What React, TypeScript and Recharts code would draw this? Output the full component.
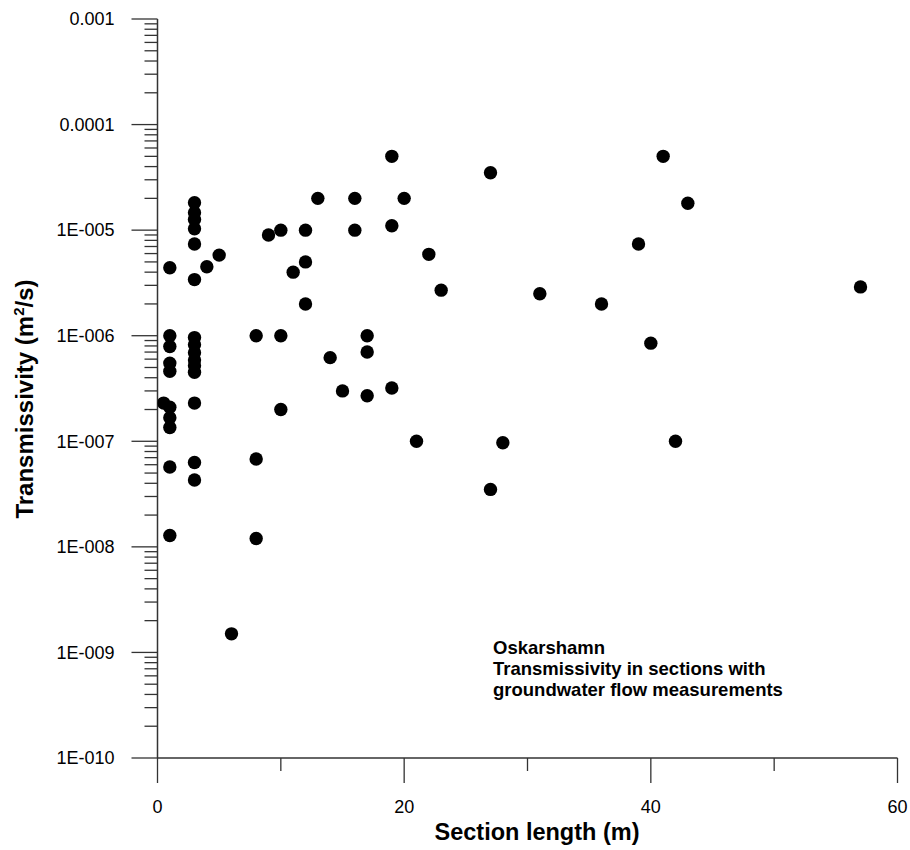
import { ScatterChart, Scatter, XAxis, YAxis, Label } from "recharts";

// section length (m) and measured transmissivity (m2/s), one entry per section
const SECTION_LENGTH = [
  1, 1, 1, 1, 1, 0.5, 1, 1, 1, 1, 1,
  3, 3, 3, 3, 3, 3, 3, 3, 3, 3, 3, 3, 3, 3, 3,
  4, 5, 6, 8, 8, 8, 9, 10, 10, 10, 11, 12, 12, 12, 13, 14, 15,
  16, 16, 17, 17, 17, 19, 19, 19, 20, 21, 22, 23, 27, 27, 28,
  31, 36, 39, 40, 41, 42, 43, 57,
];
const TRANSMISSIVITY = [
  4.4e-6, 1e-6, 7.9e-7, 5.5e-7, 4.6e-7, 2.3e-7, 2.1e-7, 1.67e-7, 1.35e-7, 5.7e-8, 1.28e-8,
  1.82e-5, 1.46e-5, 1.26e-5, 1.03e-5, 7.4e-6, 3.4e-6, 9.6e-7, 8.2e-7, 6.9e-7, 5.9e-7, 5.2e-7, 4.5e-7, 2.3e-7, 6.3e-8, 4.3e-8,
  4.5e-6, 5.8e-6, 1.5e-9, 1e-6, 6.8e-8, 1.2e-8, 9e-6, 1e-5, 1e-6, 2e-7, 4e-6, 1e-5, 5e-6, 2e-6, 2e-5, 6.2e-7, 3e-7,
  2e-5, 1e-5, 1e-6, 7e-7, 2.7e-7, 5e-5, 1.1e-5, 3.2e-7, 2e-5, 1e-7, 5.9e-6, 2.7e-6, 3.5e-5, 3.5e-8, 9.7e-8,
  2.5e-6, 2e-6, 7.4e-6, 8.5e-7, 5e-5, 1e-7, 1.8e-5, 2.9e-6,
];

const X_TICKS = [0, 10, 20, 30, 40, 50, 60];
const X_LABELED = [0, 20, 40, 60];
const Y_DECADES = [1e-10, 1e-9, 1e-8, 1e-7, 1e-6, 1e-5, 1e-4, 1e-3];
const Y_LABELS = ["1E-010", "1E-009", "1E-008", "1E-007", "1E-006", "1E-005", "0.0001", "0.001"];
const Y_MINOR = [2, 3, 4, 5, 6, 7, 8, 9];

const NOTE_LINES = [
  "Oskarshamn",
  "Transmissivity in sections with",
  "groundwater flow measurements",
];

const FONT = "'Liberation Sans', Arial, sans-serif";
const AXIS = "#333";

const points = SECTION_LENGTH.map((x, i) => ({ x, t: TRANSMISSIVITY[i] }));

const yTicks = Y_DECADES.flatMap((d, i) =>
  i === Y_DECADES.length - 1 ? [d] : [d, ...Y_MINOR.map((m) => m * d)]
);

function decadeIndex(v: number) {
  return Y_DECADES.findIndex((d) => Math.abs(Math.log10(v) - Math.log10(d)) < 1e-6);
}

function YTick(props: any) {
  const { x, y, payload } = props;
  const idx = decadeIndex(payload.value);
  const major = idx >= 0;
  return (
    <g>
      <line x1={x - (major ? 26 : 13)} x2={x} y1={y} y2={y} stroke={AXIS} strokeWidth={1.3} />
      {major && (
        <text x={x - 43} y={y} dy="0.35em" textAnchor="end" fontSize={18} fontFamily={FONT} fill="#000">
          {Y_LABELS[idx]}
        </text>
      )}
    </g>
  );
}

function XTick(props: any) {
  const { x, y, payload } = props;
  const major = X_LABELED.includes(payload.value);
  return (
    <g>
      <line x1={x} x2={x} y1={y} y2={y + (major ? 25 : 13)} stroke={AXIS} strokeWidth={1.3} />
      {major && (
        <text x={x} y={y + 55} textAnchor="middle" fontSize={18} fontFamily={FONT} fill="#000">
          {payload.value}
        </text>
      )}
    </g>
  );
}

const Dot = (props: any) => <circle cx={props.cx} cy={props.cy} r={6.7} fill="#000" />;

export default function App() {
  return (
    <div style={{ position: "absolute", left: 0, top: 0, width: 910, height: 850, background: "#fff" }}>
      <ScatterChart width={910} height={850} margin={{ top: 19, right: 12.5, bottom: 0, left: 0 }}>
        <XAxis
          type="number"
          dataKey="x"
          domain={[0, 60]}
          ticks={X_TICKS}
          interval={0}
          tickSize={0}
          tickMargin={0}
          tickLine={false}
          tick={<XTick />}
          axisLine={{ stroke: AXIS, strokeWidth: 1.5 }}
          height={92}
          allowDataOverflow
        >
          <Label
            content={() => (
              <text x={537} y={840} textAnchor="middle" fontSize={23.5} fontWeight="bold" fontFamily={FONT} fill="#000">
                Section length (m)
              </text>
            )}
          />
          <Label
            content={() => (
              <text x={493} fontSize={18.5} fontWeight="bold" fontFamily={FONT} fill="#000">
                {NOTE_LINES.map((line, i) => (
                  <tspan key={i} x={493} y={654 + i * 21}>
                    {line}
                  </tspan>
                ))}
              </text>
            )}
          />
        </XAxis>
        <YAxis
          type="number"
          dataKey="t"
          scale="log"
          domain={[1e-10, 1e-3]}
          ticks={yTicks}
          interval={0}
          tickSize={0}
          tickMargin={0}
          tickLine={false}
          tick={<YTick />}
          axisLine={{ stroke: AXIS, strokeWidth: 1.5 }}
          width={157.5}
          allowDataOverflow
        >
          <Label
            content={() => (
              <text
                x={33}
                y={399}
                transform="rotate(-90 33 399)"
                textAnchor="middle"
                fontSize={24}
                fontWeight="bold"
                fontFamily={FONT}
                fill="#000"
              >
                Transmissivity (m
                <tspan dy={-9} fontSize={15}>2</tspan>
                <tspan dy={9}>/s)</tspan>
              </text>
            )}
          />
        </YAxis>
        <Scatter data={points} shape={<Dot />} isAnimationActive={false} />
      </ScatterChart>
    </div>
  );
}
